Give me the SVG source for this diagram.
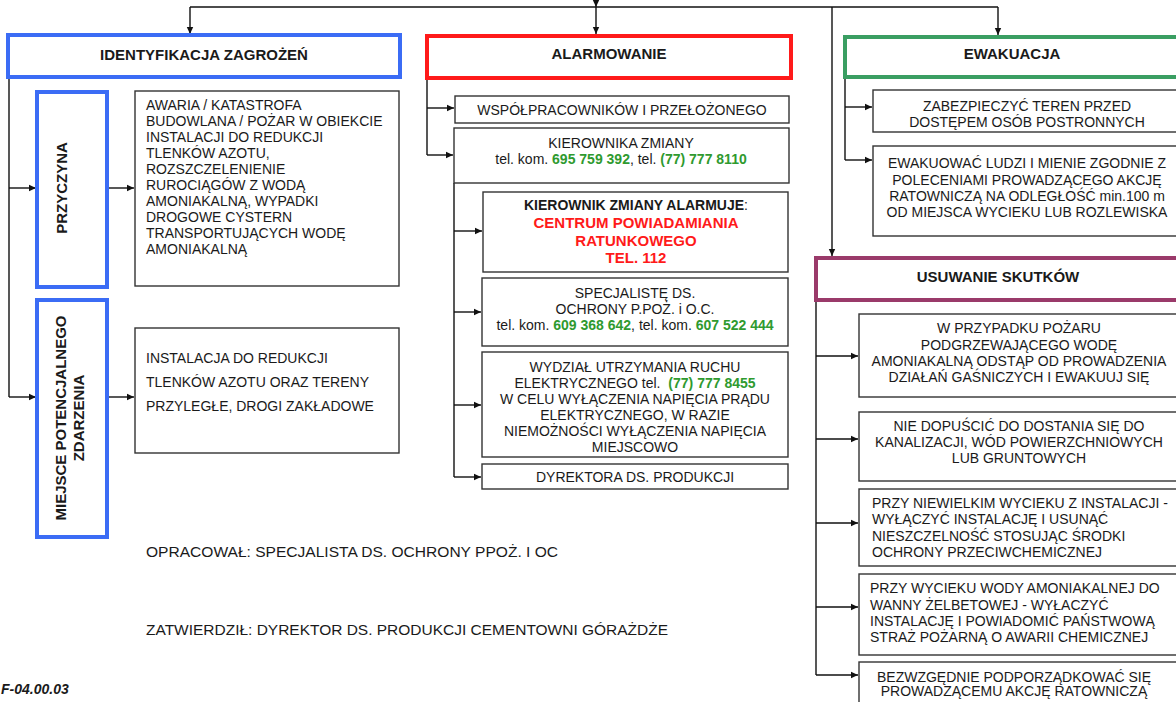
<svg xmlns="http://www.w3.org/2000/svg" width="1176" height="702" viewBox="0 0 1176 702">
<defs>
<marker id="ah" markerWidth="8" markerHeight="8" refX="7" refY="4" orient="auto" markerUnits="userSpaceOnUse">
<path d="M0,0.8 L7,4 L0,7.2 Z" fill="#111"/>
</marker>
<style>
.bx{fill:#fff;stroke:#333;stroke-width:1.4}
.blue{fill:#fff;stroke:#3b6cf5;stroke-width:4}
.red{fill:#fff;stroke:#ff1a1a;stroke-width:4}
.grn{fill:#fff;stroke:#3a9e62;stroke-width:4}
.pur{fill:#fff;stroke:#9a3a6a;stroke-width:4}
.c{fill:none;stroke:#111;stroke-width:1.4}
.a{fill:none;stroke:#111;stroke-width:1.4;marker-end:url(#ah)}
text{font-family:"Liberation Sans",Arial,sans-serif;fill:#1a1a1a}
.h{font-size:15px;font-weight:bold;text-anchor:middle}
.t{font-size:14px}
.m{font-size:14px;text-anchor:middle}
.g{fill:#2f9a2f;font-weight:bold}
.r{fill:#ff1a1a;font-weight:bold;font-size:15px}
.f{font-size:15.5px}
</style>
</defs>
<rect width="1176" height="702" fill="#fff"/>

<g id="connectors">
<path class="a" d="M596,-4 V7"/>
<path class="c" d="M190,7 H998"/>
<path class="a" d="M190,7 V34"/>
<path class="a" d="M596,7 V34"/>
<path class="a" d="M832,7 V256"/>
<path class="a" d="M998,7 V35"/>
<path class="c" d="M9,77 V397"/>
<path class="a" d="M9,188 H36"/>
<path class="a" d="M9,397 H36"/>
<path class="a" d="M107,188 H134"/>
<path class="a" d="M107,397 H134"/>
<path class="c" d="M427,78 V155"/>
<path class="a" d="M427,108 H454"/>
<path class="a" d="M427,155 H453"/>
<path class="c" d="M454,183 V477"/>
<path class="a" d="M454,231 H482"/>
<path class="a" d="M454,312 H481"/>
<path class="a" d="M454,405 H481"/>
<path class="a" d="M454,477 H481"/>
<path class="c" d="M845,77 V160"/>
<path class="a" d="M845,107 H872"/>
<path class="a" d="M845,160 H872"/>
<path class="c" d="M816,300 V675"/>
<path class="a" d="M816,356 H858"/>
<path class="a" d="M816,439 H858"/>
<path class="a" d="M816,523 H858"/>
<path class="a" d="M816,607 H858"/>
<path class="a" d="M816,675 H858"/>
</g>

<g id="identyfikacja">
<rect class="blue" x="8" y="35" width="392" height="42"/>
<text class="h" x="204" y="60">IDENTYFIKACJA ZAGROŻEŃ</text>
</g>
<g id="przyczyna">
<rect class="blue" x="37" y="92" width="70" height="195"/>
<text class="h" transform="translate(67,188) rotate(-90)">PRZYCZYNA</text>
</g>
<g id="przyczyna-opis">
<rect class="bx" x="135" y="91" width="264" height="195"/>
<text class="t" x="146" y="110">AWARIA / KATASTROFA</text>
<text class="t" x="146" y="126">BUDOWLANA / POŻAR W OBIEKCIE</text>
<text class="t" x="146" y="142">INSTALACJI DO REDUKCJI</text>
<text class="t" x="146" y="158">TLENKÓW AZOTU,</text>
<text class="t" x="146" y="174">ROZSZCZELENIENIE</text>
<text class="t" x="146" y="190">RUROCIĄGÓW Z WODĄ</text>
<text class="t" x="146" y="206">AMONIAKALNĄ, WYPADKI</text>
<text class="t" x="146" y="222">DROGOWE CYSTERN</text>
<text class="t" x="146" y="238">TRANSPORTUJĄCYCH WODĘ</text>
<text class="t" x="146" y="254">AMONIAKALNĄ</text>
</g>
<g id="miejsce">
<rect class="blue" x="37" y="300" width="70" height="237"/>
<text class="h" transform="translate(66,418) rotate(-90)">MIEJSCE POTENCJALNEGO</text>
<text class="h" transform="translate(84,418) rotate(-90)">ZDARZENIA</text>
</g>
<g id="miejsce-opis">
<rect class="bx" x="135" y="328" width="264" height="125"/>
<text class="t" x="146" y="363">INSTALACJA DO REDUKCJI</text>
<text class="t" x="146" y="387">TLENKÓW AZOTU ORAZ TERENY</text>
<text class="t" x="146" y="411">PRZYLEGŁE, DROGI ZAKŁADOWE</text>
</g>

<g id="alarmowanie">
<rect class="red" x="427" y="36" width="364" height="42"/>
<text class="h" x="609" y="59">ALARMOWANIE</text>
</g>
<g id="wspolpracownikow">
<rect class="bx" x="455" y="96" width="334" height="27"/>
<text class="m" x="622" y="115">WSPÓŁPRACOWNIKÓW I PRZEŁOŻONEGO</text>
</g>
<g id="kierownika">
<rect class="bx" x="454" y="128" width="335" height="55"/>
<text class="m" x="621" y="148">KIEROWNIKA ZMIANY</text>
<text class="m" x="621" y="164">tel. kom. <tspan class="g">695 759 392</tspan>, tel. <tspan class="g">(77) 777 8110</tspan></text>
</g>
<g id="alarmuje">
<rect class="bx" x="483" y="192" width="305" height="80"/>
<text class="m" x="636" y="210" font-weight="bold">KIEROWNIK ZMIANY ALARMUJE<tspan font-weight="normal">:</tspan></text>
<text class="m r" x="636" y="228">CENTRUM POWIADAMIANIA</text>
<text class="m r" x="636" y="246">RATUNKOWEGO</text>
<text class="m r" x="636" y="263">TEL. 112</text>
</g>
<g id="specjaliste">
<rect class="bx" x="482" y="278" width="306" height="68"/>
<text class="m" x="635" y="298">SPECJALISTĘ DS.</text>
<text class="m" x="635" y="314">OCHRONY P.POŻ. i O.C.</text>
<text class="m" x="635" y="330">tel. kom. <tspan class="g">609 368 642</tspan>, tel. kom. <tspan class="g">607 522 444</tspan></text>
</g>
<g id="wydzial">
<rect class="bx" x="482" y="352" width="306" height="105"/>
<text class="m" x="635" y="372">WYDZIAŁ UTRZYMANIA RUCHU</text>
<text class="m" x="635" y="388">ELEKTRYCZNEGO tel. <tspan class="g" dx="4">(77) 777 8455</tspan></text>
<text class="m" x="635" y="404">W CELU WYŁĄCZENIA NAPIĘCIA PRĄDU</text>
<text class="m" x="635" y="420">ELEKTRYCZNEGO, W RAZIE</text>
<text class="m" x="635" y="436">NIEMOŻNOŚCI WYŁĄCZENIA NAPIĘCIA</text>
<text class="m" x="635" y="452">MIEJSCOWO</text>
</g>
<g id="dyrektora">
<rect class="bx" x="482" y="464" width="306" height="25"/>
<text class="m" x="635" y="482">DYREKTORA DS. PRODUKCJI</text>
</g>

<g id="ewakuacja">
<rect class="grn" x="845" y="37" width="360" height="40"/>
<text class="h" x="1012" y="59">EWAKUACJA</text>
</g>
<g id="zabezpieczyc">
<rect class="bx" x="873" y="90" width="330" height="42"/>
<text class="m" x="1027" y="111">ZABEZPIECZYĆ TEREN PRZED</text>
<text class="m" x="1027" y="127">DOSTĘPEM OSÓB POSTRONNYCH</text>
</g>
<g id="ewakuowac">
<rect class="bx" x="873" y="146" width="330" height="90"/>
<text class="m" x="1027" y="168">EWAKUOWAĆ LUDZI I MIENIE ZGODNIE Z</text>
<text class="m" x="1027" y="185">POLECENIAMI PROWADZĄCEGO AKCJĘ</text>
<text class="m" x="1027" y="201">RATOWNICZĄ  NA ODLEGŁOŚĆ min.100 m</text>
<text class="m" x="1027" y="217">OD MIEJSCA WYCIEKU LUB ROZLEWISKA</text>
</g>

<g id="usuwanie">
<rect class="pur" x="816" y="258" width="390" height="42"/>
<text class="h" x="998" y="282">USUWANIE SKUTKÓW</text>
</g>
<g id="pozar">
<rect class="bx" x="859" y="314" width="340" height="83"/>
<text class="m" x="1019" y="333">W PRZYPADKU POŻARU</text>
<text class="m" x="1019" y="350">PODGRZEWAJĄCEGO WODĘ</text>
<text class="m" x="1019" y="366">AMONIAKALNĄ ODSTĄP OD PROWADZENIA</text>
<text class="m" x="1019" y="382">DZIAŁAŃ GAŚNICZYCH I EWAKUUJ SIĘ</text>
</g>
<g id="kanalizacja">
<rect class="bx" x="859" y="412" width="340" height="69"/>
<text class="m" x="1019" y="431">NIE DOPUŚCIĆ DO DOSTANIA SIĘ DO</text>
<text class="m" x="1019" y="447">KANALIZACJI, WÓD POWIERZCHNIOWYCH</text>
<text class="m" x="1019" y="463">LUB GRUNTOWYCH</text>
</g>
<g id="niewielki-wyciek">
<rect class="bx" x="859" y="489" width="340" height="77"/>
<text class="t" x="872" y="508">PRZY NIEWIELKIM WYCIEKU Z INSTALACJI -</text>
<text class="t" x="872" y="524">WYŁĄCZYĆ INSTALACJĘ I USUNĄĆ</text>
<text class="t" x="872" y="541">NIESZCZELNOŚĆ STOSUJĄC ŚRODKI</text>
<text class="t" x="872" y="557">OCHRONY PRZECIWCHEMICZNEJ</text>
</g>
<g id="wanna">
<rect class="bx" x="859" y="574" width="340" height="81"/>
<text class="t" x="870" y="593">PRZY WYCIEKU WODY AMONIAKALNEJ DO</text>
<text class="t" x="870" y="610">WANNY ŻELBETOWEJ - WYŁACZYĆ</text>
<text class="t" x="870" y="626">INSTALACJĘ I POWIADOMIĆ PAŃSTWOWĄ</text>
<text class="t" x="870" y="642">STRAŻ POŻARNĄ O AWARII CHEMICZNEJ</text>
</g>
<g id="podporzadkowac">
<rect class="bx" x="859" y="662" width="340" height="50"/>
<text class="m" x="1014" y="682">BEZWZGĘDNIE PODPORZĄDKOWAĆ SIĘ</text>
<text class="m" x="1014" y="696">PROWADZĄCEMU AKCJĘ RATOWNICZĄ</text>
</g>

<g id="footer">
<text class="f" x="146" y="557" textLength="412" lengthAdjust="spacingAndGlyphs">OPRACOWAŁ: SPECJALISTA DS. OCHRONY PPOŻ. I OC</text>
<text class="f" x="146" y="635" textLength="522" lengthAdjust="spacingAndGlyphs">ZATWIERDZIŁ: DYREKTOR DS. PRODUKCJI CEMENTOWNI GÓRAŻDŻE</text>
<text x="1" y="694" font-size="14" font-weight="bold" font-style="italic">F-04.00.03</text>
</g>
</svg>
